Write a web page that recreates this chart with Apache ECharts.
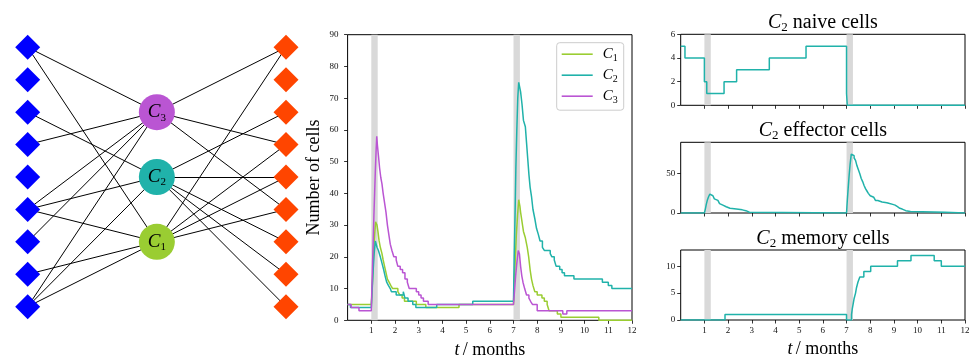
<!DOCTYPE html>
<html><head><meta charset="utf-8">
<script src="https://cdn.jsdelivr.net/npm/echarts@6/dist/echarts.min.js"></script>
<style>html,body{margin:0;padding:0;background:#fff}#c{width:974px;height:358px}</style>
</head><body><div id="c"></div>
<script>
// ---------- data ----------
const monthTicks = [1,2,3,4,5,6,7,8,9,10,11,12];
const treatmentBands = [[1.0, 1.27], [7.0, 7.27]];

const leftNodes  = ['a1','a2','a3','a4','a5','a6','a7','a8','a9'];
const rightNodes = ['b1','b2','b3','b4','b5','b6','b7','b8','b9'];
const hubNodes   = ['C3','C2','C1'];
const hubRows    = [2, 4, 6];
const edges = [
  ['a1','C3'],['a1','C1'],['a3','C2'],['a4','C3'],['a6','C3'],['a6','C2'],['a6','C1'],
  ['a7','C3'],['a8','C1'],['a9','C3'],['a9','C2'],['a9','C1'],
  ['C3','b1'],['C3','b4'],['C3','b6'],['C2','b3'],['C2','b5'],['C2','b7'],['C2','b8'],['C2','b9'],
  ['C1','b1'],['C1','b4'],['C1','b5'],['C1','b6']
];

const c1Counts = [[0,5],[1.0,5],[1.03,9],[1.07,16],[1.1,22],[1.14,27],[1.18,31],[1.24,30],[1.28,28],[1.33,25],[1.38,23],[1.45,21],[1.5,19],[1.56,17],[1.62,15],[1.68,13],[1.75,12],[1.82,11],[1.9,10],[2.12,9],[2.2,8],[2.3,7],[2.4,6],[2.9,5],[3.3,4],[4.7,5],[7.0,5],[7.03,12],[7.08,20],[7.12,27],[7.17,33],[7.22,38],[7.27,36],[7.3,34],[7.36,31],[7.42,28],[7.5,26],[7.58,23],[7.64,20],[7.7,16],[7.76,13],[7.82,11],[7.9,9],[8.0,8],[8.2,7],[8.3,6],[8.42,5],[8.5,3],[8.85,2],[9.0,1],[10.6,0],[12,0]];
const c2Counts = [[0,5],[0.12,4],[1.0,4],[1.04,10],[1.08,16],[1.12,21],[1.17,25],[1.24,23],[1.3,22],[1.38,20],[1.45,18],[1.52,16],[1.58,14],[1.65,12],[1.72,11],[1.8,10],[1.85,9],[2.05,8],[2.35,9],[2.42,7],[2.55,6],[2.75,5],[2.88,4],[3.76,5],[5.28,6],[7.0,6],[7.03,20],[7.07,35],[7.1,48],[7.14,60],[7.18,70],[7.22,75],[7.3,72],[7.36,68],[7.42,63],[7.5,61],[7.55,56],[7.6,51],[7.65,46],[7.7,42],[7.76,39],[7.82,35],[7.9,32],[7.97,29],[8.05,27],[8.12,25],[8.22,23],[8.3,22],[8.55,21],[8.62,20],[8.72,19],[8.8,17],[8.95,16],[9.05,15],[9.15,14],[9.55,13],[10.75,12],[11.0,11],[11.15,10],[12,10]];
const c3Counts = [[0,5],[0.15,4],[0.48,3],[1.0,3],[1.02,9],[1.05,17],[1.08,25],[1.11,33],[1.14,40],[1.17,47],[1.2,53],[1.23,58],[1.26,55],[1.3,52],[1.35,48],[1.4,45],[1.45,43],[1.5,40],[1.56,37],[1.62,34],[1.68,30],[1.74,27],[1.8,24],[1.87,22],[1.95,20],[2.05,19],[2.12,17],[2.22,16],[2.32,15],[2.42,13],[2.52,12],[2.6,10],[2.9,9],[3.0,8],[3.1,7],[3.2,6],[3.4,5],[7.0,5],[7.04,9],[7.09,14],[7.14,18],[7.2,22],[7.25,21],[7.3,17],[7.35,14],[7.4,12],[7.47,10],[7.55,8],[7.65,7],[7.72,6],[7.8,5],[8.0,3],[9.08,2],[9.25,3],[12,3]];

const c2Naive = [[0,5],[0.18,4],[1.0,2],[1.1,1],[1.83,2],[2.36,3],[3.74,4],[5.29,5],[7.0,1],[7.03,0],[12,0]];
const c2Effector = [[0,0],[1.0,0],[1.04,5],[1.08,11],[1.13,17],[1.18,21],[1.23,24],[1.3,22],[1.36,20],[1.42,18],[1.5,16],[1.57,14],[1.64,12],[1.7,10],[1.78,9],[1.85,8],[1.92,7],[2.0,6],[2.08,5],[2.35,6],[2.42,4],[2.6,3],[2.75,1],[2.9,0],[7.0,0],[7.03,15],[7.07,32],[7.11,48],[7.15,62],[7.2,75],[7.26,73],[7.32,70],[7.38,67],[7.44,60],[7.5,55],[7.56,50],[7.62,44],[7.68,40],[7.74,35],[7.8,31],[7.86,28],[7.92,25],[8.0,22],[8.08,20],[8.15,18],[8.22,16],[8.32,14],[8.5,13],[8.7,12],[8.82,11],[8.95,10],[9.05,8],[9.15,6],[9.25,5],[9.35,3],[9.5,2],[9.7,1],[11.15,0],[12,0]];
const c2Memory = [[0,0],[1.87,1],[7.0,0],[7.21,1],[7.24,2],[7.28,3],[7.32,4],[7.38,5],[7.42,6],[7.48,7],[7.56,8],[7.73,9],[8.02,10],[9.15,11],[9.72,12],[10.7,11],[11.0,10],[12,10]];

// ---------- styling ----------
const FONT = 'Liberation Serif';
const COL = { C1:'#9acd32', C2:'#20b2aa', C3:'#ba55d3' };
function subRich(size, subSize) {
  return {
    c:{fontFamily:FONT, fontStyle:'italic', fontWeight:'normal', fontSize:size, lineHeight:size+3, color:'#000'},
    s:{fontFamily:FONT, fontWeight:'normal', fontSize:subSize, lineHeight:subSize+3, verticalAlign:'bottom', color:'#000'},
    n:{fontFamily:FONT, fontWeight:'normal', fontSize:size, lineHeight:size+3, color:'#000'}
  };
}

const chart = echarts.init(document.getElementById('c'));

// network nodes
const nodes = [];
leftNodes.forEach((n,i)=>nodes.push({name:n, value:[0,i], symbol:'diamond', symbolSize:25, itemStyle:{color:'#0000ff'}}));
rightNodes.forEach((n,i)=>nodes.push({name:n, value:[2,i], symbol:'diamond', symbolSize:25, itemStyle:{color:'#ff4500'}}));
hubNodes.forEach((n,i)=>nodes.push({name:n, value:[1,hubRows[i]], symbol:'circle', symbolSize:36,
  itemStyle:{color:COL[n]},
  label:{show:true, position:'inside', formatter:'{c|C}{s|'+n.slice(1)+'}', rich:subRich(19,11)}}));
const links = edges.map(e=>({source:e[0], target:e[1]}));

const gridBase = {show:true, borderColor:'#000', borderWidth:1, backgroundColor:'transparent', containLabel:false, outerBoundsMode:'none'};
const grids = [
  {left:27.7, top:47.3, width:258.3, height:259.4, show:false, containLabel:false, outerBoundsMode:'none'},
  Object.assign({left:347.6, top:34.7, width:284.4, height:285.6}, gridBase),
  Object.assign({left:680.7, top:34.3, width:284.3, height:71}, gridBase),
  Object.assign({left:680.7, top:142.3, width:284.3, height:70.7}, gridBase),
  Object.assign({left:680.7, top:250, width:284.3, height:70}, gridBase)
];

const tickStyle = {show:true, length:3.5, inside:false, lineStyle:{color:'#000', width:0.8}};
const lblStyle = {fontFamily:FONT, fontSize:9, color:'#111'};

function monthAxis(gi, showLabels, withName) {
  const ax = {type:'value', gridIndex:gi, min:0, max:12, interval:1,
    axisLine:{show:false}, splitLine:{show:false},
    axisTick:Object.assign({customValues:monthTicks}, tickStyle),
    axisLabel:Object.assign({show:showLabels, customValues:monthTicks, margin:6}, lblStyle)};
  if (withName) {
    ax.name = '{c|t} {n|/ months}';
    ax.nameLocation = 'middle';
    ax.nameGap = 19;
    ax.nameTextStyle = {rich:subRich(18,12)};
  }
  return ax;
}
function valAxis(gi, max, ticks, margin) {
  return {type:'value', gridIndex:gi, min:0, max:max,
    axisLine:{show:false}, splitLine:{show:false},
    axisTick:Object.assign({customValues:ticks}, tickStyle),
    axisLabel:Object.assign({customValues:ticks, margin:margin}, lblStyle)};
}

const xAxes = [
  {type:'value', gridIndex:0, min:0, max:2, show:false},
  monthAxis(1, true, true),
  monthAxis(2, false, false),
  monthAxis(3, false, false),
  monthAxis(4, true, true)
];
const yMid = valAxis(1, 90, [0,10,20,30,40,50,60,70,80,90], 9);
yMid.name = 'Number of cells'; yMid.nameLocation = 'middle'; yMid.nameGap = 24;
yMid.nameTextStyle = {fontFamily:FONT, fontSize:18, color:'#000'};
const yAxes = [
  {type:'value', gridIndex:0, min:0, max:8, inverse:true, show:false},
  yMid,
  valAxis(2, 6, [0,2,4,6], 5.5),
  valAxis(3, 90, [0,50], 5.5),
  valAxis(4, 13, [0,5,10], 5.5)
];

function bandSeries(gi) {
  return {type:'line', xAxisIndex:gi, yAxisIndex:gi, data:[[0,0]], symbol:'none', lineStyle:{width:0, opacity:0},
    silent:true, z:1,
    markArea:{silent:true, itemStyle:{color:'#d9d9d9'}, label:{show:false},
      data: treatmentBands.map(b=>[{xAxis:b[0]},{xAxis:b[1]}])}};
}
function stepSeries(gi, name, data, color) {
  return {type:'line', name:name, xAxisIndex:gi, yAxisIndex:gi, data:data, step:'end', symbol:'none', showSymbol:false,
    lineStyle:{color:color, width:1.5}, itemStyle:{color:color}, z:3, silent:true};
}

const titleStyle = {fontWeight:'normal', rich:subRich(20,13)};
const option = {
  animation:false,
  backgroundColor:'#fff',
  title:[
    {text:'{c|C}{s|2}{n| naive cells}', left:822.9, top:11, textAlign:'center', padding:0, textStyle:titleStyle},
    {text:'{c|C}{s|2}{n| effector cells}', left:822.9, top:119, textAlign:'center', padding:0, textStyle:titleStyle},
    {text:'{c|C}{s|2}{n| memory cells}', left:822.9, top:227, textAlign:'center', padding:0, textStyle:titleStyle}
  ],
  legend:{
    data:['C1','C2','C3'].map(n=>({name:n, icon:'rect'})), orient:'vertical', left:556.7, top:42.7,
    padding:[4,6,5,5], itemGap:4.5, itemWidth:31, itemHeight:1.6,
    backgroundColor:'#fff', borderColor:'#ccc', borderWidth:1, borderRadius:3,
    formatter: n => '{c|C}{s|'+n.slice(1)+'}',
    textStyle:{padding:[0,0,0,5], rich:subRich(15,10)},
    selectedMode:false
  },
  grid: grids,
  xAxis: xAxes,
  yAxis: yAxes,
  series: [
    {type:'graph', coordinateSystem:'cartesian2d', xAxisIndex:0, yAxisIndex:0, data:nodes, links:links,
      lineStyle:{color:'#000', width:1, opacity:1, curveness:0}, silent:true, z:2},
    bandSeries(1),
    stepSeries(1, 'C1', c1Counts, COL.C1),
    stepSeries(1, 'C2', c2Counts, COL.C2),
    stepSeries(1, 'C3', c3Counts, COL.C3),
    bandSeries(2), stepSeries(2, 'naive', c2Naive, COL.C2),
    bandSeries(3), stepSeries(3, 'effector', c2Effector, COL.C2),
    bandSeries(4), stepSeries(4, 'memory', c2Memory, COL.C2)
  ]
};
chart.setOption(option);
</script></body></html>
